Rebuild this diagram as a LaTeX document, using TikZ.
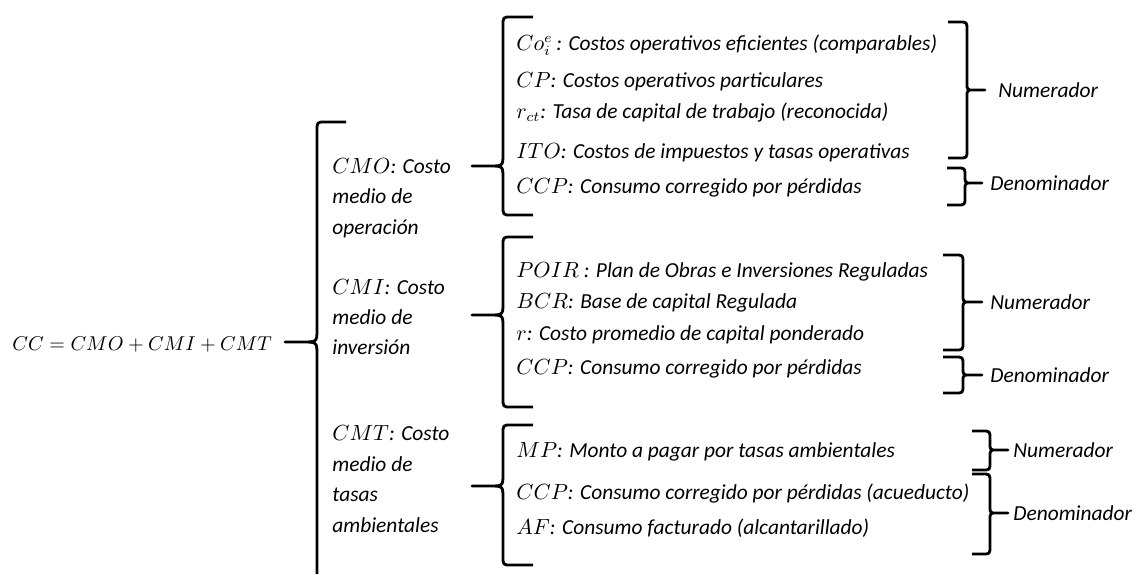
\documentclass[tikz,border=0pt]{standalone}
\usepackage{amssymb}
\usepackage{amsmath}
\usepackage{fontspec}
\setmainfont{Carlito}
\usepackage{tikz}

\begin{document}
\begin{tikzpicture}[x=0.5pt,y=-0.5pt,
  brc/.style={line width=1.4pt,line join=round},
  txt/.style={font=\fontsize{10.7}{15.2}\selectfont\itshape,inner sep=0pt,anchor=base west},
  col/.style={font=\fontsize{10.7}{15.2}\selectfont\itshape,inner sep=0pt,anchor=west,align=left},
  lbl/.style={font=\fontsize{10.7}{13}\selectfont\itshape,inner sep=0pt,anchor=west}]
\useasboundingbox (0,0) rectangle (1137,574);

% formula and main brace
\node[anchor=base west,inner sep=0pt,font=\fontsize{9.6}{12}\selectfont] (cc) at (12,350) {$CC=CMO+CMI+CMT$};
\draw[brc] (346,122) -- (325,122) .. controls (317,122) .. (317,131) -- (317,329) .. controls (317,342) .. (302,342) -- (285,342) -- (302,342) .. controls (317,342) .. (317,355) -- (317,574);

% middle column
\node[col] (cmo) at (332,198) {$CMO$: Costo\\medio de\\operación};
\node[col] (cmi) at (332,317) {$CMI$: Costo\\medio de\\inversión};
\node[col] (cmt) at (332,479) {$CMT$: Costo\\medio de\\tasas\\ambientales};

% second level braces
\foreach \ya/\yb/\yc in {17/166/215,237/315/407,425/486/565} {
\draw[brc] (533,\ya) -- (511,\ya) .. controls (503,\ya) .. (503,\ya+9) -- (503,\yb-12) .. controls (503,\yb) .. (489,\yb) -- (472,\yb) -- (489,\yb) .. controls (503,\yb) .. (503,\yb+12) -- (503,\yc-9) .. controls (503,\yc) .. (511,\yc) -- (533,\yc);
}

% terms
\foreach \n/\y/\t in {coe/50/{$Co_i^e$\,: Costos operativos eficientes (comparables)},
  cp/87/{$CP$: Costos operativos particulares},
  rct/118/{$r_{ct}$: Tasa de capital de trabajo (reconocida)},
  ito/158/{$ITO$: Costos de impuestos y tasas operativas},
  ccpa/193/{$CCP$: Consumo corregido por pérdidas},
  poir/277/{$POIR$ : Plan de Obras e Inversiones Reguladas},
  bcr/308/{$BCR$: Base de capital Regulada},
  rr/340/{$r$: Costo promedio de capital ponderado},
  ccpb/374/{$CCP$: Consumo corregido por pérdidas},
  mp/457/{$MP$: Monto a pagar por tasas ambientales},
  ccpc/499/{$CCP$: Consumo corregido por pérdidas (acueducto)},
  af/534/{$AF$: Consumo facturado (alcantarillado)}} {
\node[txt] (\n) at (516,\y) {\t};
}

% right braces
\foreach \hx/\vx/\ya/\yb/\yc/\tx in {948/967/22/90/158/985,947/965/168/183/205/982,943/963/255/302/350/982,943/963/357/375/393/982,972/990/431/450/470/1008,972/990/474/513/554/1008} {
\draw[brc] (\hx,\ya) -- (\vx-8,\ya) .. controls (\vx,\ya) .. (\vx,\ya+8) -- (\vx,\yb-7) .. controls (\vx,\yb) .. (\vx+7,\yb) -- (\tx,\yb) -- (\vx+7,\yb) .. controls (\vx,\yb) .. (\vx,\yb+7) -- (\vx,\yc-8) .. controls (\vx,\yc) .. (\vx-8,\yc) -- (\hx,\yc);
}

\node[lbl] (num1) at (998,90) {Numerador};
\node[lbl] (den1) at (990,183) {Denominador};
\node[lbl] (num2) at (990,302) {Numerador};
\node[lbl] (den2) at (990,375) {Denominador};
\node[lbl] (num3) at (1013,450) {Numerador};
\node[lbl] (den3) at (1013,513) {Denominador};
\end{tikzpicture}
\end{document}
